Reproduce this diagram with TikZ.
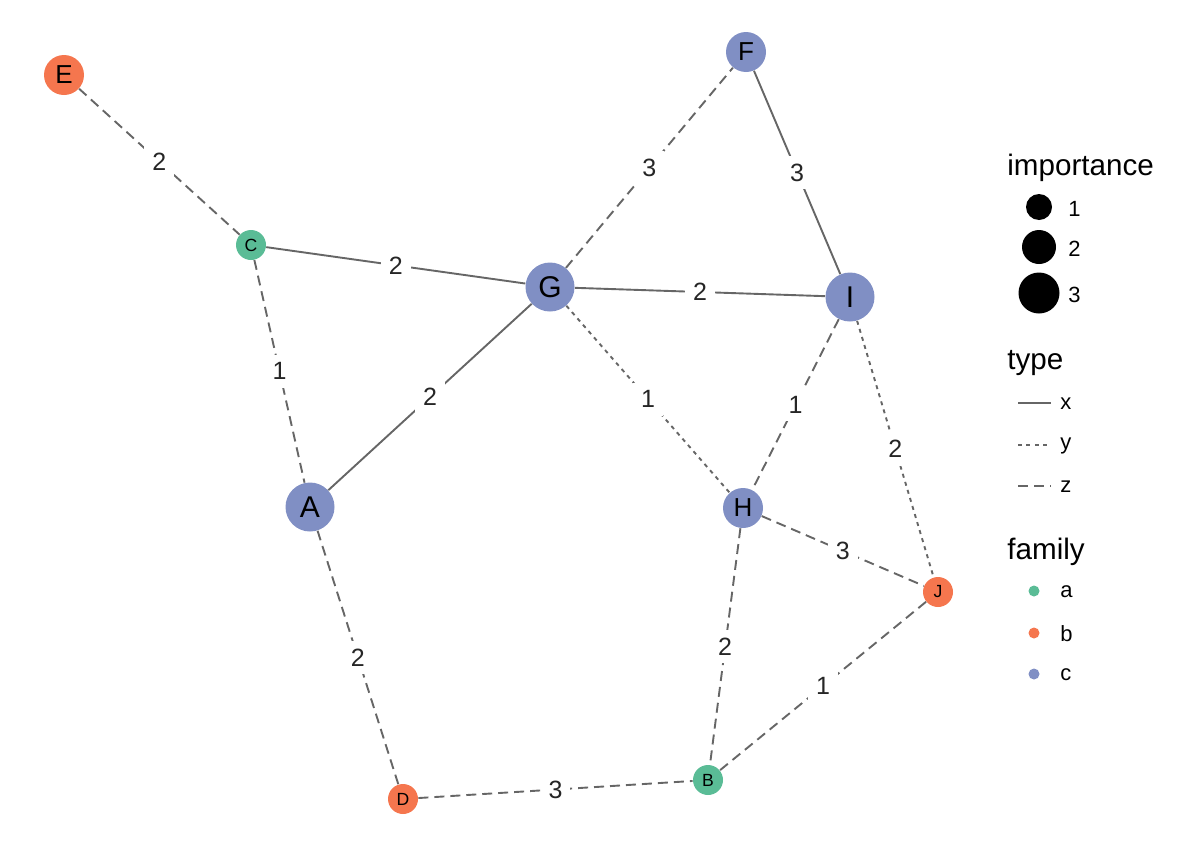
\documentclass[tikz,border=0pt]{standalone}
\usepackage{fontspec}
\setmainfont{Liberation Sans}
\definecolor{famA}{RGB}{90,188,150}
\definecolor{famB}{RGB}{245,118,78}
\definecolor{famC}{RGB}{128,143,196}
\definecolor{edgecol}{RGB}{102,102,102}
\tikzset{
  vtx/.style={circle,inner sep=0pt,text=black},
  small/.style={vtx,minimum size=15pt,font=\fontsize{8.8}{9}\selectfont},
  medium/.style={vtx,minimum size=20pt,font=\fontsize{13}{14}\selectfont},
  large/.style={vtx,minimum size=24.5pt,font=\fontsize{15}{16}\selectfont},
  edgebase/.style={draw=edgecol,line width=0.95pt},
  tx/.style={edgebase},
  ty/.style={edgebase,dash pattern=on 2pt off 2.2pt},
  tz/.style={edgebase,dash pattern=on 5pt off 3pt},
  elab/.style={midway,fill=white,inner sep=4pt,text=black!85,font=\fontsize{12.5}{13}\selectfont},
  legtitle/.style={anchor=west,inner sep=0pt,font=\fontsize{14.8}{16}\selectfont},
  leglab/.style={anchor=west,inner sep=0pt,font=\fontsize{11}{12}\selectfont},
}
\begin{document}
\begin{tikzpicture}[x=0.5pt,y=-0.5pt]
\useasboundingbox (0,0) rectangle (1200,857);
% nodes
\node[medium,fill=famB] (E) at (64,75) {E};
\node[small,fill=famA] (C) at (251,245) {C};
\node[medium,fill=famC] (F) at (746,52) {F};
\node[large,fill=famC] (G) at (550,287) {G};
\node[large,fill=famC] (I) at (850,297) {I};
\node[large,fill=famC] (A) at (310,507) {A};
\node[medium,fill=famC] (H) at (743,508) {H};
\node[small,fill=famB] (J) at (938,592) {J};
\node[small,fill=famB] (D) at (403,799) {D};
\node[small,fill=famA] (B) at (708,780) {B};
% edges
\draw[tz] (E) -- node[elab]{2} (C);
\draw[tx] (C) -- node[elab]{2} (G);
\draw[tz] (C) -- node[elab]{1} (A);
\draw[tz] (G) -- node[elab]{3} (F);
\draw[tx] (F) -- node[elab]{3} (I);
\draw[tx] (G) -- node[elab]{2} (I);
\draw[tx] (A) -- node[elab]{2} (G);
\draw[ty] (G) -- node[elab]{1} (H);
\draw[tz] (I) -- node[elab]{1} (H);
\draw[ty] (I) -- node[elab]{2} (J);
\draw[tz] (H) -- node[elab]{3} (J);
\draw[tz] (H) -- node[elab]{2} (B);
\draw[tz] (J) -- node[elab]{1} (B);
\draw[tz] (A) -- node[elab]{2} (D);
\draw[tz] (D) -- node[elab]{3} (B);
% legend: importance
\node[legtitle] (limp) at (1007,168) {importance};
\node[circle,fill=black,inner sep=0pt,minimum size=13pt] (li1) at (1039,207) {};
\node[circle,fill=black,inner sep=0pt,minimum size=17pt] (li2) at (1039,247) {};
\node[circle,fill=black,inner sep=0pt,minimum size=20.5pt] (li3) at (1039,293) {};
\node[leglab] (li1t) at (1068,209) {1};
\node[leglab] (li2t) at (1068,249) {2};
\node[leglab] (li3t) at (1068,295) {3};
% legend: type
\node[legtitle] (ltype) at (1007,363) {type};
\coordinate (lx0) at (1018,403); \coordinate (lx1) at (1051,403);
\coordinate (ly0) at (1018,445); \coordinate (ly1) at (1051,445);
\coordinate (lz0) at (1018,486); \coordinate (lz1) at (1051,486);
\draw[tx] (lx0) -- (lx1);
\draw[ty] (ly0) -- (ly1);
\draw[tz] (lz0) -- (lz1);
\node[leglab] (lxt) at (1060,404) {x};
\node[leglab] (lyt) at (1060,446) {y};
\node[leglab] (lzt) at (1060,487) {z};
% legend: family
\node[legtitle] (lfam) at (1007,552) {family};
\node[circle,fill=famA,inner sep=0pt,minimum size=5.5pt] (lfa) at (1034,591) {};
\node[circle,fill=famB,inner sep=0pt,minimum size=5.5pt] (lfb) at (1034,633) {};
\node[circle,fill=famC,inner sep=0pt,minimum size=5.5pt] (lfc) at (1034,674) {};
\node[leglab] (lfat) at (1060,592) {a};
\node[leglab] (lfbt) at (1060,634) {b};
\node[leglab] (lfct) at (1060,675) {c};
\end{tikzpicture}
\end{document}
